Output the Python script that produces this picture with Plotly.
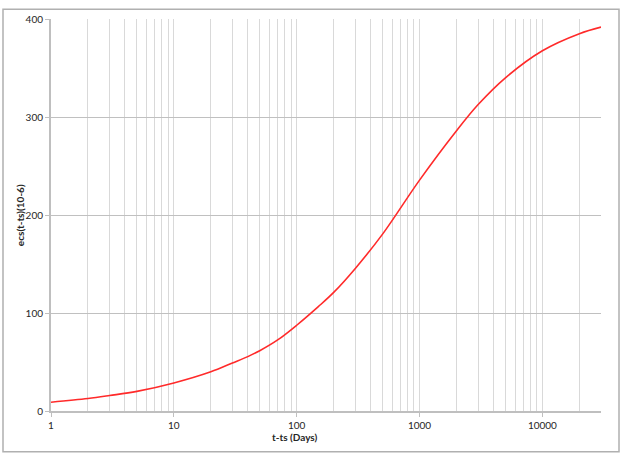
import plotly.graph_objects as go

# Data
days = [1, 2, 3, 5, 10, 20, 30, 40, 50, 70, 100, 150, 200, 300, 500, 1000, 2000, 3000, 5000, 10000, 20000, 30000]
ecs = [9.0, 12.8, 15.8, 20.0, 28.6, 40.0, 49.0, 55.5, 61.5, 72.5, 87.5, 106.5, 121.0, 145.5, 180.5, 235.6, 286.0, 312.7, 340.0, 367.6, 385.0, 391.7]

x_tick_vals = [1, 10, 100, 1000, 10000]
x_tick_text = ["1", "10", "100", "1000", "10000"]
y_tick_vals = [0, 100, 200, 300, 400]

minor_vals = [m * 10 ** e for e in range(0, 5) for m in range(2, 10) if m * 10 ** e <= 30000]

fig = go.Figure()
fig.add_trace(go.Scatter(
    x=days, y=ecs, mode="lines",
    line=dict(color="#ff2a2a", width=1.6, shape="spline", smoothing=1.0),
    showlegend=False, hoverinfo="skip",
))

font = "Lato, 'Open Sans', sans-serif"
fig.update_layout(
    width=623, height=457,
    margin=dict(l=51, r=22, t=13, b=46),
    paper_bgcolor="white", plot_bgcolor="white",
    font=dict(family=font, size=10, color="#262626"),
    xaxis=dict(
        type="log", range=[0, 4.477],
        tickvals=x_tick_vals, ticktext=x_tick_text,
        ticks="outside", ticklen=4, tickcolor="#bfbfbf", tickwidth=1,
        showgrid=True, gridcolor="#d9d9d9", gridwidth=1,
        minor=dict(tickvals=minor_vals, showgrid=True, gridcolor="#d9d9d9", gridwidth=1, ticks=""),
        showline=True, linecolor="#bfbfbf", linewidth=1.5,
        zeroline=False, tickfont=dict(size=10, color="#262626"),
    ),
    yaxis=dict(
        range=[0, 400], tickvals=y_tick_vals,
        ticks="outside", ticklen=4, tickcolor="#bfbfbf", tickwidth=1,
        showgrid=True, gridcolor="#c0c0c0", gridwidth=1.2,
        showline=True, linecolor="#bfbfbf", linewidth=2,
        zeroline=False, tickfont=dict(size=10, color="#262626"),
    ),
    shapes=[dict(
        type="rect", xref="paper", yref="paper",
        x0=(3 - 51) / 550, x1=(619 - 51) / 550,
        y0=(410.7 - 452) / 397.7, y1=(410.7 - 3) / 397.7,
        line=dict(color="#b0b0b0", width=1.5), fillcolor="rgba(0,0,0,0)", layer="above",
    )],
    annotations=[
        dict(text="<b>t-ts (Days)</b>", xref="paper", yref="paper",
             x=(294 - 51) / 550, y=(410.7 - 437) / 397.7, showarrow=False,
             font=dict(size=10, color="#262626"), xanchor="center", yanchor="middle"),
        dict(text="<b>ecs(t-ts)(10-6)</b>", xref="paper", yref="paper",
             x=(20 - 51) / 550, y=(410.7 - 212) / 397.7, showarrow=False, textangle=-90,
             font=dict(size=10, color="#262626"), xanchor="center", yanchor="middle"),
    ],
)

fig.write_html("out.html", config={"displayModeBar": False},
               post_script="document.body.style.margin='0';document.body.style.padding='0';")
